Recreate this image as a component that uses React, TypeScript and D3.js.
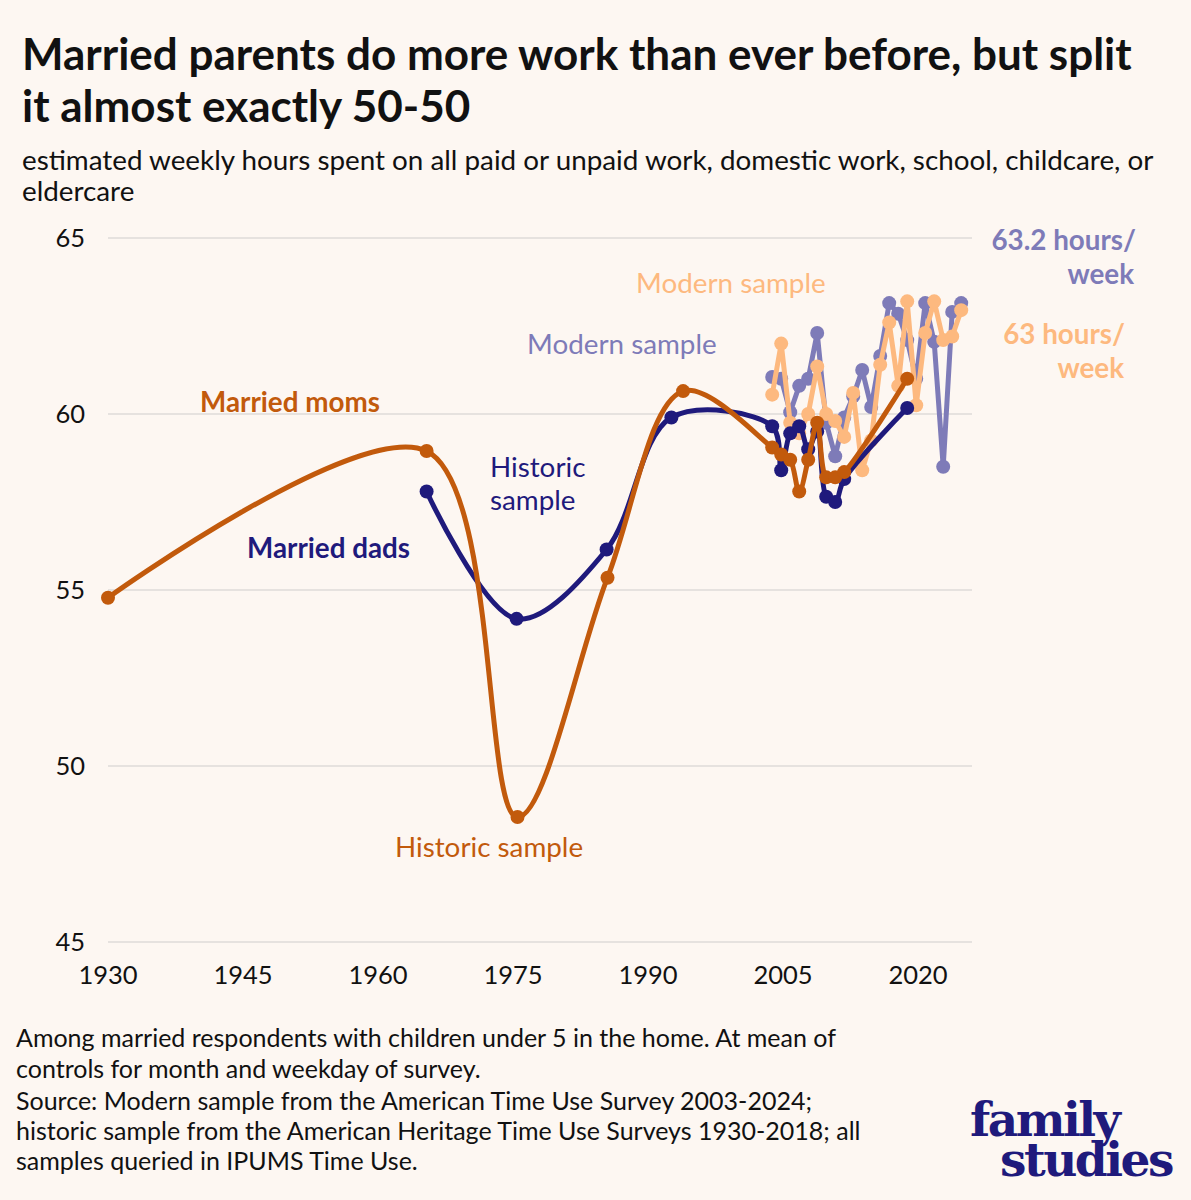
import { useMemo } from "react";
import * as d3 from "d3";

// historic sample (AHTUS), x = mean survey date
const histMomYears = [1930, 1965.4, 1975.5, 1985.5, 1993.9, 2003.8, 2004.8, 2005.8, 2006.8, 2007.8, 2008.8, 2009.8, 2010.8, 2011.8, 2018.8];
const histMomHours = [54.78, 58.95, 48.55, 55.35, 60.65, 59.05, 58.85, 58.7, 57.8, 58.7, 59.75, 58.2, 58.2, 58.35, 61.0];
const histDadYears = [1965.4, 1975.4, 1985.4, 1992.6, 2003.8, 2004.8, 2005.8, 2006.8, 2007.8, 2008.8, 2009.8, 2010.8, 2011.8, 2018.8];
const histDadHours = [57.8, 54.18, 56.15, 59.9, 59.65, 58.4, 59.45, 59.65, 59.0, 59.5, 57.65, 57.5, 58.15, 60.17];

// modern sample (ATUS 2003-2024)
const modernYears = d3.range(2003, 2025);
const modernMomHours = [60.55, 62.0, 59.75, 59.45, 60.0, 61.35, 60.0, 59.8, 59.35, 60.6, 58.4, 59.25, 61.4, 62.6, 60.8, 63.2, 60.25, 62.3, 63.2, 62.1, 62.2, 62.95];
const modernDadHours = [61.05, 61.0, 60.05, 60.8, 61.0, 62.3, 59.75, 58.8, 59.9, 60.5, 61.25, 60.2, 61.65, 63.15, 62.85, 62.1, 61.0, 63.15, 62.05, 58.5, 62.9, 63.15];

const xTicks = [1930, 1945, 1960, 1975, 1990, 2005, 2020];
const yTicks = [45, 50, 55, 60, 65];

const C = {
  bg: "#fdf7f2",
  mom: "#c25a0c",
  dad: "#1f1a7c",
  modMom: "#fdb97f",
  modDad: "#7e7bb8",
  grid: "#dedbd8",
  ink: "#111111",
};

const FONT = "Lato, 'Noto Sans', sans-serif";

type Pt = [number, number];

export default function App() {
  const width = 1191;
  const height = 1200;

  const x = d3.scaleLinear().domain([1930, 2020]).range([108, 918]);
  const y = d3.scaleLinear().domain([45, 65]).range([942, 238]);

  const series = useMemo(() => {
    const smooth = d3
      .line<Pt>()
      .x((d) => x(d[0]))
      .y((d) => y(d[1]))
      .curve(d3.curveCatmullRom.alpha(0.5));
    const straight = d3
      .line<Pt>()
      .x((d) => x(d[0]))
      .y((d) => y(d[1]));
    const zip = (xs: number[], ys: number[]): Pt[] => xs.map((v, i) => [v, ys[i]]);
    // modern points sit late in each survey year
    const mYears = modernYears.map((v) => v + 0.8);
    const histMom = zip(histMomYears, histMomHours);
    const histDad = zip(histDadYears, histDadHours);
    const modDad = zip(mYears, modernDadHours);
    const modMom = zip(mYears, modernMomHours);
    return [
      { pts: modDad, color: C.modDad, path: straight(modDad) ?? "" },
      { pts: modMom, color: C.modMom, path: straight(modMom) ?? "" },
      { pts: histDad, color: C.dad, path: smooth(histDad) ?? "" },
      { pts: histMom, color: C.mom, path: smooth(histMom) ?? "" },
    ];
  }, []);

  return (
    <svg
      width={width}
      height={height}
      viewBox={`0 0 ${width} ${height}`}
      style={{ position: "absolute", left: 0, top: 0, display: "block" }}
      fontFamily={FONT}
    >
      <rect width={width} height={height} fill={C.bg} />

      <text x={22} y={70} fontSize={44} fontWeight={700} fill={C.ink}>
        Married parents do more work than ever before, but split
      </text>
      <text x={22} y={122} fontSize={44} fontWeight={700} fill={C.ink}>
        it almost exactly 50-50
      </text>
      <text fontSize={27.8} fill={C.ink}>
        <tspan x={22} y={170}>
          estimated weekly hours spent on all paid or unpaid work, domestic work, school, childcare, or
        </tspan>
        <tspan x={22} y={201}>eldercare</tspan>
      </text>

      {yTicks.map((t) => (
        <g key={t}>
          <line x1={108} x2={972} y1={y(t)} y2={y(t)} stroke={C.grid} strokeWidth={1.5} />
          <text x={85} y={y(t) + 9} textAnchor="end" fontSize={25.5} fill={C.ink}>
            {t}
          </text>
        </g>
      ))}
      {xTicks.map((t) => (
        <text key={t} x={x(t)} y={984} textAnchor="middle" fontSize={25.5} fill={C.ink}>
          {t}
        </text>
      ))}

      {series.map((s, i) => (
        <g key={i}>
          <path d={s.path} fill="none" stroke={s.color} strokeWidth={5} strokeLinejoin="round" strokeLinecap="round" />
          {s.pts.map((p, j) => (
            <circle key={j} cx={x(p[0])} cy={y(p[1])} r={7} fill={s.color} />
          ))}
        </g>
      ))}

      <text x={200} y={412} fontSize={27.8} fontWeight={700} fill={C.mom}>Married moms</text>
      <text x={247} y={558} fontSize={27.8} fontWeight={700} fill={C.dad}>Married dads</text>
      <text x={395} y={857} fontSize={27.8} fill={C.mom}>Historic sample</text>
      <text fontSize={27.8} fill={C.dad}>
        <tspan x={490} y={477}>Historic</tspan>
        <tspan x={490} y={510}>sample</tspan>
      </text>
      <text x={527} y={354} fontSize={27.8} fill={C.modDad}>Modern sample</text>
      <text x={636} y={293} fontSize={27.8} fill={C.modMom}>Modern sample</text>
      <text fontSize={27.8} fontWeight={700} fill={C.modDad} textAnchor="end">
        <tspan x={1136} y={250}>63.2 hours/</tspan>
        <tspan x={1134} y={284}>week</tspan>
      </text>
      <text fontSize={27.8} fontWeight={700} fill={C.modMom} textAnchor="end">
        <tspan x={1125} y={344}>63 hours/</tspan>
        <tspan x={1124} y={378}>week</tspan>
      </text>

      <text fontSize={25} fill={C.ink}>
        <tspan x={16} y={1047}>Among married respondents with children under 5 in the home. At mean of</tspan>
        <tspan x={16} y={1078}>controls for month and weekday of survey.</tspan>
        <tspan x={16} y={1110}>Source: Modern sample from the American Time Use Survey 2003-2024;</tspan>
        <tspan x={16} y={1140}>historic sample from the American Heritage Time Use Surveys 1930-2018; all</tspan>
        <tspan x={16} y={1170}>samples queried in IPUMS Time Use.</tspan>
      </text>

      <text fontFamily="'DejaVu Serif', 'Liberation Serif', serif" fontWeight={700} fill={C.dad} fontSize={47} letterSpacing={-2.5}>
        <tspan x={970} y={1136}>family</tspan>
        <tspan x={1000} y={1176}>studies</tspan>
      </text>
    </svg>
  );
}
